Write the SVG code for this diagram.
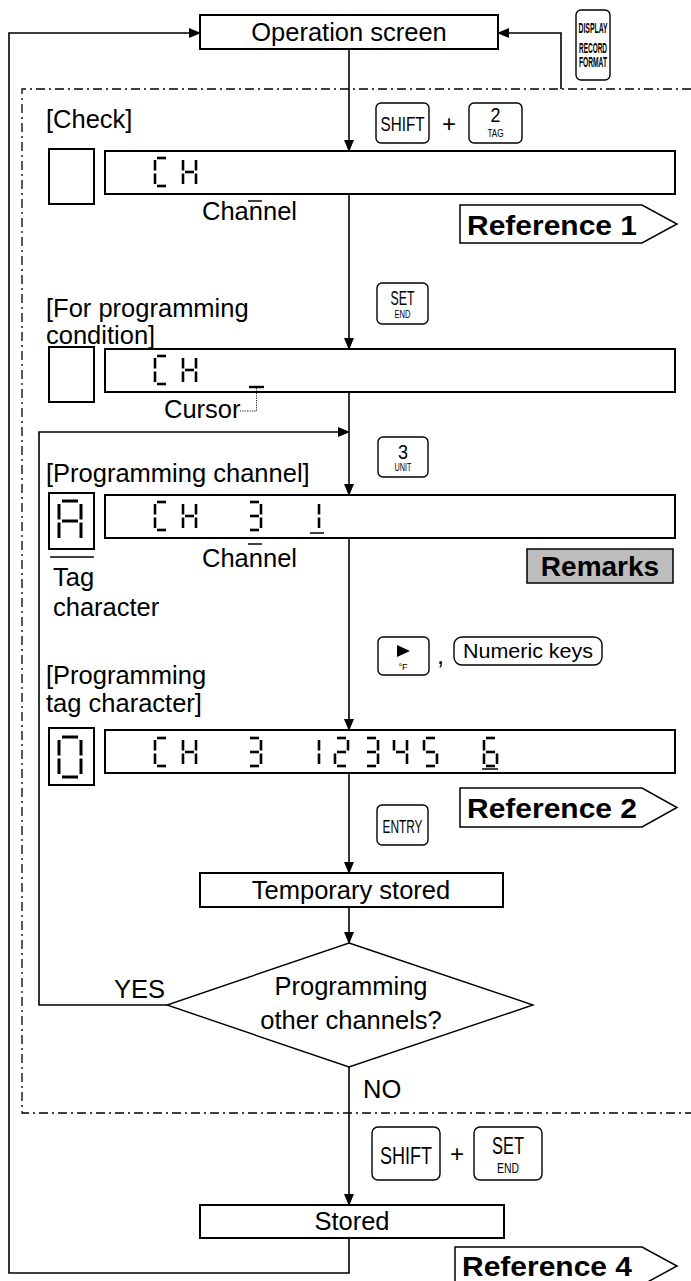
<svg xmlns="http://www.w3.org/2000/svg" xmlns:xlink="http://www.w3.org/1999/xlink" width="691" height="1281" viewBox="0 0 691 1281">
<style>
.lbl{font-family:"Liberation Sans",Arial,sans-serif;font-size:25.5px;fill:#000}
.ctr{text-anchor:middle}
.ref{font-family:"Liberation Sans",Arial,sans-serif;font-size:28px;font-weight:bold;fill:#000}
.key{font-family:"Liberation Sans",Arial,sans-serif;fill:#000;text-anchor:middle}
.kb{font-weight:bold}
.box{fill:#fff;stroke:#000;stroke-width:2}
.kbox{fill:#fff;stroke:#000;stroke-width:1.4}
.conn{fill:none;stroke:#000;stroke-width:1.6}
.dd{fill:none;stroke:#000;stroke-width:1.3;stroke-dasharray:9 4 2 4}
.seg{stroke:#000;stroke-width:2.6;fill:none}
.bseg{stroke:#000;stroke-width:3;fill:none}
.pent{fill:#fff;stroke:#000;stroke-width:1.5}
.mark{stroke:#000;stroke-width:1.5}
</style>
<defs>
<marker id="arr" markerWidth="12" markerHeight="10" refX="11" refY="5" orient="auto" markerUnits="userSpaceOnUse">
<path d="M0,0 L12,5 L0,10 z" fill="#000"/>
</marker>
<g id="sa"><line x1="2" y1="0" x2="11" y2="0"/></g>
<g id="sb"><line x1="13" y1="2" x2="13" y2="12.5"/></g>
<g id="sc"><line x1="13" y1="15.5" x2="13" y2="26"/></g>
<g id="sd"><line x1="2" y1="28" x2="11" y2="28"/></g>
<g id="se"><line x1="0" y1="15.5" x2="0" y2="26"/></g>
<g id="sf"><line x1="0" y1="2" x2="0" y2="12.5"/></g>
<g id="sg"><line x1="2" y1="14" x2="11" y2="14"/></g>
<g id="dC" class="seg"><use xlink:href="#sa"/><use xlink:href="#sf"/><use xlink:href="#se"/><use xlink:href="#sd"/></g>
<g id="dH" class="seg"><use xlink:href="#sf"/><use xlink:href="#se"/><use xlink:href="#sb"/><use xlink:href="#sc"/><use xlink:href="#sg"/></g>
<g id="d1" class="seg"><use xlink:href="#sb"/><use xlink:href="#sc"/></g>
<g id="d2" class="seg"><use xlink:href="#sa"/><use xlink:href="#sb"/><use xlink:href="#sg"/><use xlink:href="#se"/><use xlink:href="#sd"/></g>
<g id="d3" class="seg"><use xlink:href="#sa"/><use xlink:href="#sb"/><use xlink:href="#sg"/><use xlink:href="#sc"/><use xlink:href="#sd"/></g>
<g id="d4" class="seg"><use xlink:href="#sf"/><use xlink:href="#sg"/><use xlink:href="#sb"/><use xlink:href="#sc"/></g>
<g id="d5" class="seg"><use xlink:href="#sa"/><use xlink:href="#sf"/><use xlink:href="#sg"/><use xlink:href="#sc"/><use xlink:href="#sd"/></g>
<g id="d6" class="seg"><use xlink:href="#sa"/><use xlink:href="#sf"/><use xlink:href="#sg"/><use xlink:href="#se"/><use xlink:href="#sc"/><use xlink:href="#sd"/></g>
</defs>
<rect width="691" height="1281" fill="#fff"/>

<g id="boundary">
<polyline class="dd" points="691,89 22,89 22,1113 691,1113"/>
</g>

<g id="connectors">
<line class="conn" x1="349" y1="49" x2="349" y2="151" marker-end="url(#arr)"/>
<line class="conn" x1="349" y1="194" x2="349" y2="349" marker-end="url(#arr)"/>
<line class="conn" x1="349" y1="392" x2="349" y2="495" marker-end="url(#arr)"/>
<line class="conn" x1="349" y1="538" x2="349" y2="730" marker-end="url(#arr)"/>
<line class="conn" x1="349" y1="773" x2="349" y2="873" marker-end="url(#arr)"/>
<line class="conn" x1="349" y1="907" x2="349" y2="943" marker-end="url(#arr)"/>
<line class="conn" x1="349" y1="1067" x2="349" y2="1205" marker-end="url(#arr)"/>
<polyline class="conn" points="167,1005 39,1005 39,432 349,432" marker-end="url(#arr)"/>
<polyline class="conn" points="349,1238 349,1273 9,1273 9,33 200,33" marker-end="url(#arr)"/>
<polyline class="conn" points="561,89 561,33 498,33" marker-end="url(#arr)"/>
</g>

<g id="op-screen">
<rect class="box" x="200" y="15" width="298" height="34"/>
<text class="lbl ctr" x="349" y="41">Operation screen</text>
</g>

<g id="key-display">
<rect class="kbox" x="576" y="10" width="34" height="70" rx="5"/>
<text class="key kb" x="593" y="33" font-size="15" textLength="29" lengthAdjust="spacingAndGlyphs">DISPLAY</text>
<text class="key kb" x="593" y="53" font-size="14" textLength="28" lengthAdjust="spacingAndGlyphs">RECORD</text>
<text class="key kb" x="593" y="67" font-size="14" textLength="28" lengthAdjust="spacingAndGlyphs">FORMAT</text>
</g>

<g id="check">
<text class="lbl" x="46" y="128">[Check]</text>
<rect class="kbox" x="376" y="103" width="53" height="40" rx="5"/>
<text class="key" x="402.5" y="131" font-size="21" textLength="44" lengthAdjust="spacingAndGlyphs">SHIFT</text>
<text class="key" x="449" y="132" font-size="24">+</text>
<rect class="kbox" x="469" y="103" width="53" height="40" rx="5"/>
<text class="key" x="495.5" y="122" font-size="20" textLength="10" lengthAdjust="spacingAndGlyphs">2</text>
<text class="key" x="495.5" y="137" font-size="11" textLength="16" lengthAdjust="spacingAndGlyphs">TAG</text>
<rect class="box" x="49" y="149" width="45" height="55"/>
<rect class="box" x="105" y="151" width="570" height="43"/>
<use xlink:href="#dC" x="155" y="158"/>
<use xlink:href="#dH" x="183" y="158"/>
<line class="mark" x1="248" y1="201" x2="262" y2="201"/>
<text class="lbl" x="202" y="220">Channel</text>
</g>

<g id="ref1">
<polygon class="pent" points="460,205 642,205 677,224 642,243 460,243"/>
<text class="ref" x="467" y="235" textLength="170" lengthAdjust="spacingAndGlyphs">Reference 1</text>
</g>

<g id="cond">
<text class="lbl" x="46" y="317">[For programming</text>
<text class="lbl" x="46" y="344">condition]</text>
<rect class="kbox" x="377" y="283" width="51" height="41" rx="5"/>
<text class="key" x="402.5" y="305" font-size="21" textLength="24" lengthAdjust="spacingAndGlyphs">SET</text>
<text class="key" x="402.5" y="318" font-size="11" textLength="16" lengthAdjust="spacingAndGlyphs">END</text>
<rect class="box" x="49" y="347" width="45" height="55"/>
<rect class="box" x="105" y="349" width="570" height="43"/>
<use xlink:href="#dC" x="155" y="356"/>
<use xlink:href="#dH" x="183" y="356"/>
<line x1="249" y1="387" x2="264" y2="387" stroke="#000" stroke-width="2.4"/>
<polyline points="256.5,388 256.5,411 239,411" fill="none" stroke="#000" stroke-width="0.9" stroke-dasharray="1.2 1.2"/>
<text class="lbl" x="164" y="418">Cursor</text>
</g>

<g id="prog-channel">
<text class="lbl" x="46" y="482">[Programming channel]</text>
<rect class="kbox" x="378" y="437" width="50" height="40" rx="5"/>
<text class="key" x="403" y="459" font-size="20" textLength="10" lengthAdjust="spacingAndGlyphs">3</text>
<text class="key" x="403" y="471" font-size="11" textLength="17" lengthAdjust="spacingAndGlyphs">UNIT</text>
<rect class="box" x="49" y="493" width="45" height="56"/>
<g class="bseg">
<line x1="62" y1="501" x2="78" y2="501"/>
<line x1="59" y1="504" x2="59" y2="519.5"/><line x1="81" y1="504" x2="81" y2="519.5"/>
<line x1="62" y1="521" x2="78" y2="521"/>
<line x1="59" y1="522.5" x2="59" y2="538"/><line x1="81" y1="522.5" x2="81" y2="538"/>
</g>
<rect class="box" x="105" y="495" width="570" height="43"/>
<use xlink:href="#dC" x="155" y="502"/>
<use xlink:href="#dH" x="183" y="502"/>
<use xlink:href="#d3" x="248" y="502"/>
<use xlink:href="#d1" x="306" y="502"/>
<line class="mark" x1="310" y1="533" x2="324" y2="533"/>
<line class="mark" x1="248" y1="544" x2="262" y2="544"/>
<text class="lbl" x="202" y="567">Channel</text>
<line class="mark" x1="50" y1="557" x2="94" y2="557"/>
<text class="lbl" x="53" y="586">Tag</text>
<text class="lbl" x="53" y="616">character</text>
</g>

<g id="remarks">
<rect x="527" y="549" width="146" height="34" fill="#bdbdbd" stroke="#000" stroke-width="1.5"/>
<text class="ref ctr" x="600" y="576">Remarks</text>
</g>

<g id="prog-tag">
<rect class="kbox" x="378" y="637" width="51" height="38" rx="5"/>
<polygon points="397,645 410,651 397,657" fill="#000"/>
<text class="key" x="403" y="670" font-size="9">°F</text>
<text class="lbl" x="437" y="664">,</text>
<rect class="kbox" x="454" y="637" width="148" height="28" rx="8"/>
<text class="key" x="528" y="658" font-size="20" textLength="130" lengthAdjust="spacingAndGlyphs">Numeric keys</text>
<text class="lbl" x="46" y="684">[Programming</text>
<text class="lbl" x="46" y="712">tag character]</text>
<rect class="box" x="49" y="728" width="45" height="57"/>
<g class="bseg">
<line x1="62" y1="737" x2="78" y2="737"/>
<line x1="59" y1="740" x2="59" y2="755.5"/><line x1="81" y1="740" x2="81" y2="755.5"/>
<line x1="59" y1="758.5" x2="59" y2="774"/><line x1="81" y1="758.5" x2="81" y2="774"/>
<line x1="62" y1="777" x2="78" y2="777"/>
</g>
<rect class="box" x="105" y="730" width="570" height="43"/>
<use xlink:href="#dC" x="155" y="738"/>
<use xlink:href="#dH" x="183" y="738"/>
<use xlink:href="#d3" x="248" y="738"/>
<use xlink:href="#d1" x="306" y="738"/>
<use xlink:href="#d2" x="335" y="738"/>
<use xlink:href="#d3" x="365" y="738"/>
<use xlink:href="#d4" x="394" y="738"/>
<use xlink:href="#d5" x="424" y="738"/>
<use xlink:href="#d6" x="484" y="738"/>
<line class="mark" x1="482" y1="769" x2="498" y2="769"/>
</g>

<g id="ref2">
<polygon class="pent" points="460,788 642,788 677,807.5 642,827 460,827"/>
<text class="ref" x="467" y="818" textLength="170" lengthAdjust="spacingAndGlyphs">Reference 2</text>
</g>

<g id="entry">
<rect class="kbox" x="377" y="805" width="51" height="40" rx="5"/>
<text class="key" x="402.5" y="833" font-size="19" textLength="40" lengthAdjust="spacingAndGlyphs">ENTRY</text>
</g>

<g id="temp-stored">
<rect class="box" x="200" y="873" width="303" height="34"/>
<text class="lbl ctr" x="351" y="899">Temporary stored</text>
</g>

<g id="decision">
<polygon points="349,943 533,1005 349,1067 167,1005" fill="#fff" stroke="#000" stroke-width="1.4"/>
<text class="lbl ctr" x="351" y="995">Programming</text>
<text class="lbl ctr" x="351" y="1029">other channels?</text>
<text class="lbl" x="114" y="998">YES</text>
<text class="lbl" x="363" y="1098">NO</text>
</g>

<g id="save-keys">
<rect class="kbox" x="372" y="1127" width="68" height="53" rx="6"/>
<text class="key" x="406" y="1164" font-size="24" textLength="52" lengthAdjust="spacingAndGlyphs">SHIFT</text>
<text class="key" x="457" y="1162" font-size="24">+</text>
<rect class="kbox" x="474" y="1127" width="68" height="53" rx="6"/>
<text class="key" x="508" y="1154" font-size="24" textLength="32" lengthAdjust="spacingAndGlyphs">SET</text>
<text class="key" x="508" y="1173" font-size="14" textLength="22" lengthAdjust="spacingAndGlyphs">END</text>
</g>

<g id="stored">
<rect class="box" x="200" y="1205" width="304" height="33"/>
<text class="lbl ctr" x="352" y="1230">Stored</text>
</g>

<g id="ref4">
<polygon class="pent" points="455,1247 642,1247 677,1266 642,1285 455,1285"/>
<text class="ref" x="462" y="1276" textLength="170" lengthAdjust="spacingAndGlyphs">Reference 4</text>
</g>
</svg>
